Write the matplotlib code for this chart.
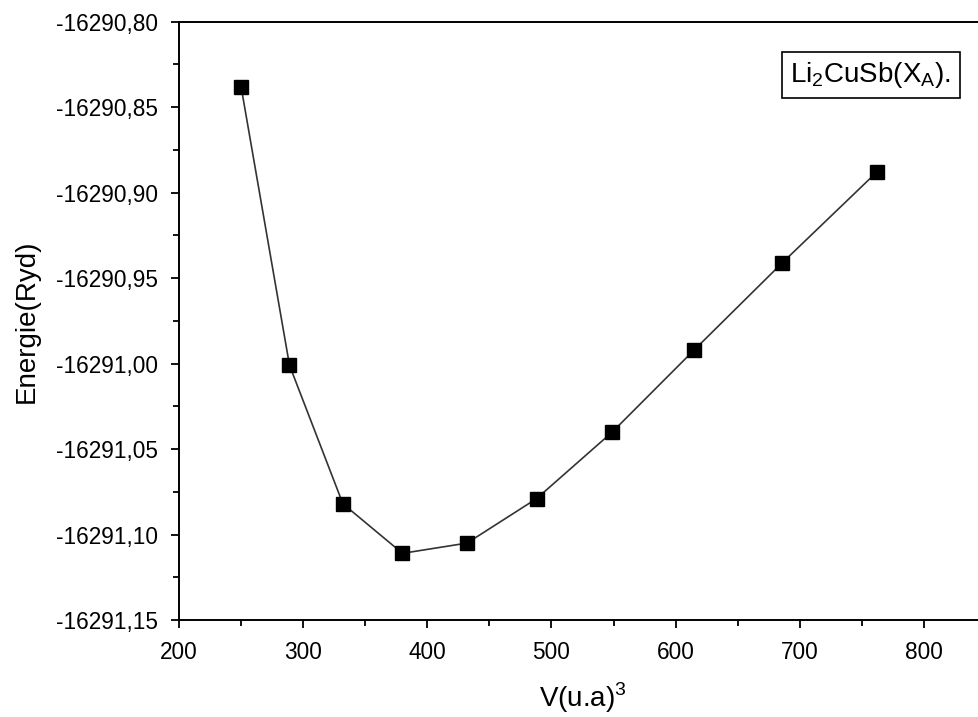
import matplotlib
matplotlib.use("Agg")
import matplotlib.pyplot as plt
from matplotlib.ticker import MultipleLocator, FuncFormatter

plt.rcParams["font.family"] = ["Liberation Sans", "DejaVu Sans"]
plt.rcParams["mathtext.fontset"] = "custom"
plt.rcParams["mathtext.rm"] = "Liberation Sans"
plt.rcParams["axes.unicode_minus"] = False

# Volume (u.a)^3 et énergie (Ryd)
volume = [250, 289, 332, 380, 432, 488, 549, 615, 686, 762]
energie = [-16290.838, -16291.001, -16291.082, -16291.111, -16291.105,
           -16291.079, -16291.040, -16290.992, -16290.941, -16290.888]

fig = plt.figure(figsize=(9.79, 7.17), dpi=100)
# axe droit coupé au bord de l'image, comme dans l'original
ax = fig.add_axes([179 / 979, 1 - 620 / 717, (986 - 179) / 979, (620 - 21.7) / 717])

ax.plot(volume, energie, color="#333333", linewidth=1.2,
        marker="s", markersize=9.5, markerfacecolor="black", markeredgecolor="black")

ax.set_xlim(200, 850)
ax.set_ylim(-16291.15, -16290.80)

ax.xaxis.set_major_locator(MultipleLocator(100))
ax.xaxis.set_minor_locator(MultipleLocator(50))
ax.yaxis.set_major_locator(MultipleLocator(0.05))
ax.yaxis.set_minor_locator(MultipleLocator(0.025))
ax.yaxis.set_major_formatter(FuncFormatter(lambda v, p: f"{v:.2f}".replace(".", ",")))

ax.tick_params(which="major", direction="out", length=6, width=1.3, labelsize=16.3, pad=9)
ax.tick_params(which="minor", direction="out", length=4, width=1.3)
ax.tick_params(top=False, right=False)
for s in ax.spines.values():
    s.set_linewidth(1.4)
ax.spines["right"].set_visible(False)

ax.set_xlabel("V(u.a)$^3$", fontsize=20, labelpad=12)
ax.set_ylabel("Energie(Ryd)", fontsize=20, labelpad=12)

ax.text(0.8575, 0.911, r"Li$_\mathrm{2}$CuSb(X$_\mathrm{A}$).", transform=ax.transAxes,
        fontsize=20, ha="center", va="center",
        bbox=dict(boxstyle="square,pad=0.3", facecolor="white", edgecolor="black", linewidth=1.2))

fig.savefig("out.png", dpi=100)
